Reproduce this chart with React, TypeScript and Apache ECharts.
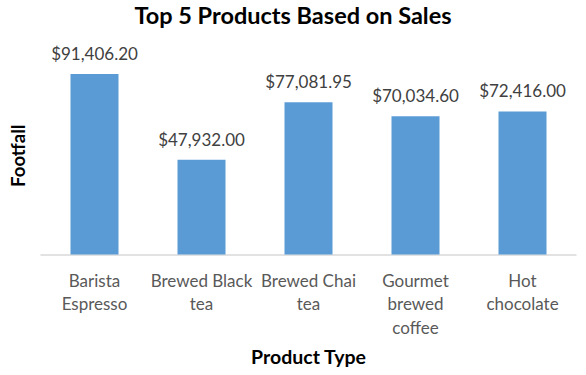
import React, { useEffect, useRef } from "react";
import * as echarts from "echarts";

const categories = ["Barista Espresso", "Brewed Black tea", "Brewed Chai tea", "Gourmet brewed coffee", "Hot chocolate"];
const tickLabels = ["Barista\nEspresso", "Brewed Black\ntea", "Brewed Chai\ntea", "Gourmet\nbrewed\ncoffee", "Hot\nchocolate"];
const sales = [91406.2, 47932.0, 77081.95, 70034.6, 72416.0];

const FONT = "Lato, Carlito, 'Open Sans', sans-serif";

export default function App() {
  const ref = useRef<HTMLDivElement>(null);
  useEffect(() => {
    document.body.style.margin = "0";
    if (!ref.current) return;
    const chart = echarts.init(ref.current, null, { renderer: "svg" });
    chart.setOption({
      animation: false,
      title: {
        text: "Top 5 Products Based on Sales",
        left: "center",
        top: 3,
        padding: 0,
        textStyle: { fontFamily: FONT, fontSize: 23.5, fontWeight: "bold", color: "#000" },
      },
      grid: { left: 36, right: 10, top: 57, bottom: 120.5 },
      xAxis: {
        type: "category",
        data: categories,
        name: "Product Type",
        nameLocation: "middle",
        nameGap: 92,
        nameTextStyle: { fontFamily: FONT, fontSize: 19.5, fontWeight: "bold", color: "#000" },
        axisLine: { lineStyle: { color: "#D9D9D9", width: 1.5 } },
        axisTick: { show: false },
        axisLabel: {
          interval: 0,
          margin: 14,
          fontFamily: FONT,
          fontSize: 17,
          color: "#595959",
          lineHeight: 23.5,
          formatter: (_v: string, i: number) => tickLabels[i],
        },
      },
      yAxis: {
        type: "value",
        min: 0,
        max: 100000,
        name: "Footfall",
        nameLocation: "middle",
        nameGap: 14,
        nameRotate: 90,
        nameTextStyle: { fontFamily: FONT, fontSize: 18.5, fontWeight: "bold", color: "#000" },
        axisLabel: { show: false },
        axisLine: { show: false },
        axisTick: { show: false },
        splitLine: { show: false },
      },
      series: [
        {
          type: "bar",
          data: sales,
          barWidth: 48,
          itemStyle: { color: "#5B9BD5" },
          label: {
            show: true,
            position: "top",
            distance: 12,
            fontFamily: FONT,
            fontSize: 17,
            color: "#404040",
            formatter: (p: any) =>
              "$" + Number(p.value).toLocaleString("en-US", { minimumFractionDigits: 2, maximumFractionDigits: 2 }),
          },
        },
      ],
    });
    return () => chart.dispose();
  }, []);
  return <div ref={ref} style={{ width: 586, height: 375 }} />;
}
